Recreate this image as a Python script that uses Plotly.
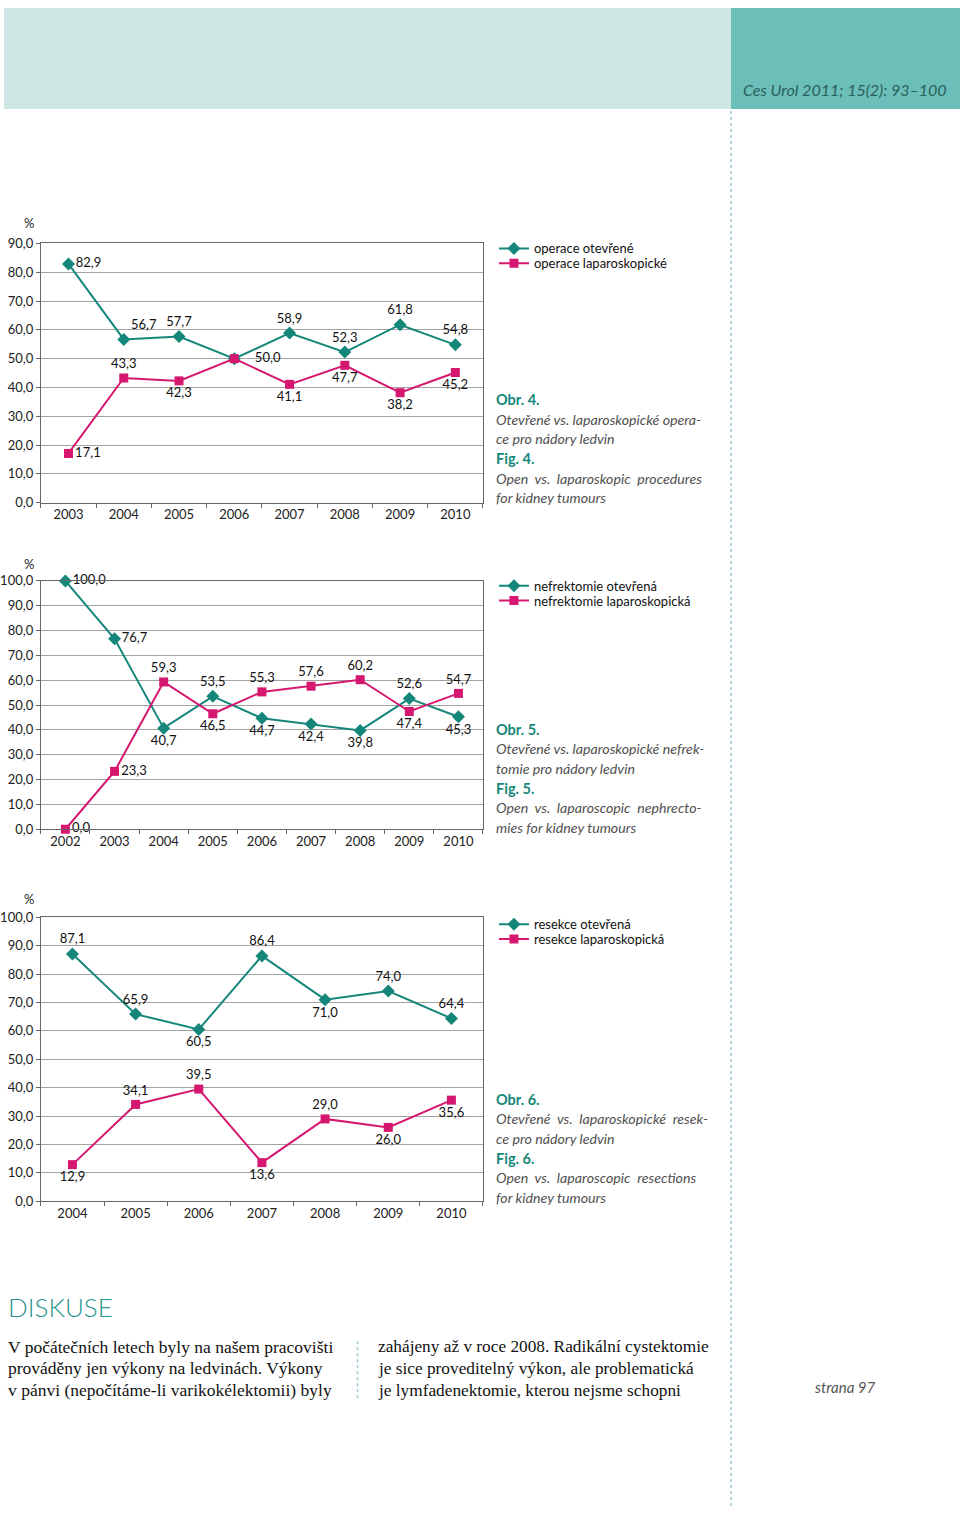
import plotly.graph_objects as go

# ---------------- data ----------------
years1 = ["2003", "2004", "2005", "2006", "2007", "2008", "2009", "2010"]
open1 = [82.9, 56.7, 57.7, 50.0, 58.9, 52.3, 61.8, 54.8]
lap1 = [17.1, 43.3, 42.3, 50.0, 41.1, 47.7, 38.2, 45.2]

years2 = ["2002", "2003", "2004", "2005", "2006", "2007", "2008", "2009", "2010"]
open2 = [100.0, 76.7, 40.7, 53.5, 44.7, 42.4, 39.8, 52.6, 45.3]
lap2 = [0.0, 23.3, 59.3, 46.5, 55.3, 57.6, 60.2, 47.4, 54.7]

years3 = ["2004", "2005", "2006", "2007", "2008", "2009", "2010"]
open3 = [87.1, 65.9, 60.5, 86.4, 71.0, 74.0, 64.4]
lap3 = [12.9, 34.1, 39.5, 13.6, 29.0, 26.0, 35.6]

names1 = ["operace otevřené", "operace laparoskopické"]
names2 = ["nefrektomie otevřená", "nefrektomie laparoskopická"]
names3 = ["resekce otevřená", "resekce laparoskopická"]

captions = [
    ["Obr. 4.", "Otevřené vs. laparoskopické opera-", "ce pro nádory ledvin", "Fig. 4.",
     "Open  vs.  laparoskopic  procedures", "for kidney tumours"],
    ["Obr. 5.", "Otevřené vs. laparoskopické nefrek-", "tomie pro nádory ledvin", "Fig. 5.",
     "Open  vs.  laparoscopic  nephrecto-", "mies for kidney tumours"],
    ["Obr. 6.", "Otevřené  vs.  laparoskopické  resek-", "ce pro nádory ledvin", "Fig. 6.",
     "Open  vs.  laparoscopic  resections", "for kidney tumours"],
]

body_col1 = ["V počátečních letech byly na našem pracovišti",
             "prováděny jen výkony na ledvinách. Výkony",
             "v pánvi (nepočítáme-li varikokélektomii) byly"]
body_col2 = ["zahájeny až v roce 2008. Radikální cystektomie",
             "je sice proveditelný výkon, ale problematická",
             "je lymfadenektomie, kterou nejsme schopni"]

# ---------------- styling ----------------
W, H = 960, 1514
TEAL = "#15877a"
MAG = "#d5176f"
FONT = "Lato"
GRID = "#a3a3a3"
AXL = "#666666"


def px(x):
    return x / W


def py(y):
    return 1 - y / H


def fmt(v):
    return f"{v:.1f}".replace(".", ",")


pos_open1 = ["middle right", "top right", "top center", "middle right", "top center", "top center", "top center", "top center"]
pos_lap1 = ["middle right", "top center", "bottom center", "middle right", "bottom center", "bottom center", "bottom center", "bottom center"]
pos_open2 = ["middle right", "middle right", "bottom center", "top center", "bottom center", "bottom center", "bottom center", "top center", "bottom center"]
pos_lap2 = ["middle right", "middle right", "top center", "bottom center", "top center", "top center", "top center", "bottom center", "top center"]
pos_open3 = ["top center", "top center", "bottom center", "top center", "bottom center", "top center", "top center"]
pos_lap3 = ["bottom center", "top center", "top center", "bottom center", "top center", "bottom center", "bottom center"]

lab_open1 = [fmt(v) for v in open1]
lab_open1[3] = "\u00a0\u00a0\u00a0\u00a0" + lab_open1[3]  # shared point label pushed right
lab_lap1 = [fmt(v) for v in lap1]
lab_lap1[3] = ""  # shared point labelled once

charts = [
    dict(x=years1, o=open1, l=lap1, lo=lab_open1, ll=lab_lap1,
         po=pos_open1, pl=pos_lap1, names=names1, ymax=90, top=238, bot=500, leg_y=243, cap_y=396, pct_y=217),
    dict(x=years2, o=open2, l=lap2, lo=[fmt(v) for v in open2], ll=[fmt(v) for v in lap2],
         po=pos_open2, pl=pos_lap2, names=names2, ymax=100, top=579, bot=830, leg_y=584, cap_y=729, pct_y=562),
    dict(x=years3, o=open3, l=lap3, lo=[fmt(v) for v in open3], ll=[fmt(v) for v in lap3],
         po=pos_open3, pl=pos_lap3, names=names3, ymax=100, top=919, bot=1206, leg_y=926, cap_y=1103, pct_y=901),
]

fig = go.Figure()
annotations = []
shapes = []
layout_axes = {}

for i, c in enumerate(charts):
    n = i + 1
    sx = "" if n == 1 else str(n)
    for k, (vals, labs, pos, name, col, sym) in enumerate([
        (c["o"], c["lo"], c["po"], c["names"][0], TEAL, "diamond"),
        (c["l"], c["ll"], c["pl"], c["names"][1], MAG, "square"),
    ]):
        legnum = 2 * i + k + 1
        leg = "legend" if legnum == 1 else f"legend{legnum}"
        fig.add_trace(go.Scatter(
            x=c["x"], y=vals, name=name, mode="lines+markers+text",
            text=labs, textposition=pos,
            textfont=dict(family=FONT, size=13, color="#111111"),
            line=dict(color=col, width=2),
            marker=dict(symbol=sym, size=9 if sym == "square" else 10, color=col),
            xaxis="x" + sx, yaxis="y" + sx, legend=leg, cliponaxis=False,
        ))
        layout_axes[leg] = dict(
            x=px(492), y=py(c["leg_y"] + 15 * k), xanchor="left", yanchor="middle",
            bgcolor="rgba(0,0,0,0)", font=dict(family=FONT, size=13, color="#111111"),
            itemwidth=30,
        )
    layout_axes["xaxis" + sx] = dict(
        domain=[px(37), px(481)], anchor="y" + sx, type="category",
        range=[-0.5, len(c["x"]) - 0.5], tickson="boundaries",
        ticks="outside", ticklen=4, tickcolor=AXL,
        showline=True, linecolor=AXL, linewidth=1, mirror=True,
        showgrid=False, tickfont=dict(family=FONT, size=13, color="#222222"),
        fixedrange=True,
    )
    layout_axes["yaxis" + sx] = dict(
        domain=[py(c["bot"]), py(c["top"])], anchor="x" + sx,
        range=[0, c["ymax"]], dtick=10, tickformat=".1f",
        ticks="outside", ticklen=4, tickcolor=AXL,
        showline=True, linecolor=AXL, linewidth=1, mirror=True,
        showgrid=True, gridcolor=GRID, gridwidth=1, zeroline=False,
        tickfont=dict(family=FONT, size=13, color="#222222"),
        fixedrange=True,
    )
    annotations.append(dict(x=px(25), y=py(c["pct_y"]), xref="paper", yref="paper",
                            text="%", showarrow=False, xanchor="center", yanchor="middle",
                            font=dict(family=FONT, size=13, color="#222222")))
    for j, line in enumerate(captions[i]):
        bold = j in (0, 3)
        annotations.append(dict(
            x=px(492), y=py(c["cap_y"] + j * 19.8), xref="paper", yref="paper",
            text=f"<b>{line}</b>" if bold else f"<i>{line}</i>", showarrow=False,
            xanchor="left", yanchor="middle",
            font=dict(family=FONT, size=14.5 if bold else 14.2, color=TEAL if bold else "#505050"),
        ))

# header
shapes.append(dict(type="rect", xref="paper", yref="paper", x0=0, x1=px(730), y0=py(102), y1=1,
                   fillcolor="#cfe7e4", line=dict(width=0), layer="below"))
shapes.append(dict(type="rect", xref="paper", yref="paper", x0=px(730), x1=1, y0=py(102), y1=1,
                   fillcolor="#6bbfb8", line=dict(width=0), layer="below"))
annotations.append(dict(x=px(845), y=py(82), xref="paper", yref="paper",
                        text="<i>Ces Urol 2011; 15(2): 93–100</i>", showarrow=False,
                        xanchor="center", yanchor="middle",
                        font=dict(family=FONT, size=16, color="#2b5e5c")))
shapes.append(dict(type="line", xref="paper", yref="paper", x0=px(730), x1=px(730), y0=0, y1=py(102),
                   line=dict(color="#9cc9d3", width=1.5, dash="dot")))
shapes.append(dict(type="line", xref="paper", yref="paper", x0=px(355), x1=px(355), y0=py(1405), y1=py(1345),
                   line=dict(color="#9cc9d3", width=1.5, dash="dot")))

annotations.append(dict(x=px(2), y=py(1313), xref="paper", yref="paper", text="DISKUSE",
                        showarrow=False, xanchor="left", yanchor="middle",
                        font=dict(family=FONT, size=26, color="#2a948b", weight=300)))
for j, (a, b) in enumerate(zip(body_col1, body_col2)):
    yy = py(1353 + j * 22)
    annotations.append(dict(x=px(2), y=yy, xref="paper", yref="paper", text=a, showarrow=False,
                            xanchor="left", yanchor="middle",
                            font=dict(family="Liberation Serif", size=17.5, color="#111111")))
    annotations.append(dict(x=px(374), y=yy, xref="paper", yref="paper", text=b, showarrow=False,
                            xanchor="left", yanchor="middle",
                            font=dict(family="Liberation Serif", size=17.3, color="#111111")))
annotations.append(dict(x=px(845), y=py(1394), xref="paper", yref="paper", text="<i>strana 97</i>",
                        showarrow=False, xanchor="center", yanchor="middle",
                        font=dict(family=FONT, size=15, color="#555555")))

fig.update_layout(
    width=W, height=H, margin=dict(l=0, r=0, t=0, b=0),
    paper_bgcolor="white", plot_bgcolor="white",
    separators=", ", showlegend=True,
    annotations=annotations, shapes=shapes,
    font=dict(family=FONT),
    **layout_axes,
)

fig.write_html("out.html", config={"displayModeBar": False},
               post_script="document.body.style.margin='0px';document.body.style.overflow='hidden';")
